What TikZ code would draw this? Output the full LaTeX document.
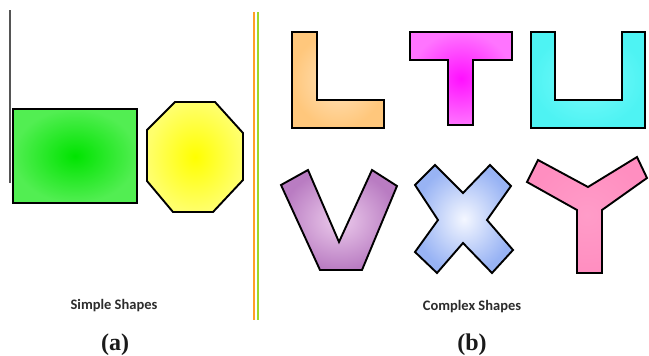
\documentclass[tikz,border=0pt]{standalone}
\usepackage{fontspec}
\setmainfont{Liberation Serif}
\newfontfamily\capfont{Carlito}
\usepackage{tikz}
\usetikzlibrary{positioning}
\definecolor{ink}{HTML}{1A1A1A}
\definecolor{capgray}{HTML}{2C2C2C}
\definecolor{rulegray}{HTML}{555555}
\definecolor{ruleorange}{HTML}{FFA125}
\definecolor{rulegreen}{HTML}{9CD82A}
\definecolor{greenin}{HTML}{00E400}
\definecolor{greenout}{HTML}{52EE52}
\definecolor{yellowin}{HTML}{FFFF00}
\definecolor{yellowout}{HTML}{FFFF6C}
\definecolor{orangein}{HTML}{FFE3BC}
\definecolor{orangeout}{HTML}{FFC77C}
\definecolor{magentain}{HTML}{FF10FF}
\definecolor{magentaout}{HTML}{FF74FF}
\definecolor{cyanin}{HTML}{78FBFB}
\definecolor{cyanout}{HTML}{4EF3F3}
\definecolor{purplein}{HTML}{ECCBEC}
\definecolor{purpleout}{HTML}{B97CC2}
\definecolor{bluein}{HTML}{F4F7FF}
\definecolor{blueout}{HTML}{98B3F4}
\definecolor{pinkin}{HTML}{FF9CC8}
\definecolor{pinkout}{HTML}{FF8EC0}
\tikzset{
  every node/.style={text=ink,inner sep=0pt},
  piece/.style={draw=black,line width=1.9pt,line join=miter,shade},
  simplegreen/.style={piece,inner color=greenin,outer color=greenout},
  simpleyellow/.style={piece,inner color=yellowin,outer color=yellowout},
  lshape/.style={piece,inner color=orangein,outer color=orangeout},
  tshape/.style={piece,inner color=magentain,outer color=magentaout},
  ushape/.style={piece,inner color=cyanin,outer color=cyanout},
  vshape/.style={piece,inner color=purplein,outer color=purpleout},
  xshape/.style={piece,inner color=bluein,outer color=blueout},
  yshape/.style={piece,inner color=pinkin,outer color=pinkout},
  caption/.style={font=\capfont\bfseries\fontsize{14.5}{16}\selectfont,text=capgray},
  sublabel/.style={font=\bfseries\fontsize{24}{26}\selectfont,text=ink},
  divider/.style={line width=1.4pt}
}

\begin{document}
\begin{tikzpicture}[x=1pt,y=-1pt]
  \useasboundingbox[fill=white] (0,0) rectangle (649,356);

  % left margin rule and the two separators
  \draw[rulegray,line width=1.2pt] (10,10) -- (10,183);
  \draw[divider,ruleorange] (254,12) -- (254,320);
  \draw[divider,rulegreen] (258,12) -- (258,320);

  % (a) simple shapes
  \draw[simplegreen] (13,109) rectangle (137,203);
  \draw[simpleyellow] (175,102) -- (215,102) -- (243,133) -- (243,180) -- (213,212)
    -- (173,212) -- (147,181) -- (147,130) -- cycle;

  % (b) complex shapes, top row
  \draw[lshape] (292,32) -- (317,32) -- (317,100) -- (384,100) -- (384,128) -- (292,128) -- cycle;
  \draw[tshape] (410,32) -- (512,32) -- (512,60) -- (473,60) -- (473,125) -- (448,125)
    -- (448,60) -- (410,60) -- cycle;
  \draw[ushape] (531,32) -- (555,32) -- (555,100) -- (622,100) -- (622,32) -- (645,32)
    -- (645,128) -- (531,128) -- cycle;

  % (b) complex shapes, bottom row
  \draw[vshape] (281,185) -- (308,170) -- (339,242) -- (372,170) -- (397,186) -- (362,270)
    -- (320,270) -- cycle;
  \draw[xshape] (415,185) -- (435,165) -- (463,193) -- (490,165) -- (511,186) -- (487,220)
    -- (513,250) -- (492,273) -- (463,243) -- (437,273) -- (415,252) -- (438,220) -- cycle;
  \draw[yshape] (527,182) -- (538,160) -- (588,187) -- (637,157) -- (647,178) -- (602,210)
    -- (602,273) -- (577,273) -- (577,210) -- cycle;

  % captions
  \node[caption] (simplecap) at (114,306) {Simple Shapes};
  \node[caption] (complexcap) at (472,307) {Complex Shapes};
  \node[sublabel] (suba) at (115,345) {(a)};
  \node[sublabel] (subb) at (472,345) {(b)};
\end{tikzpicture}
\end{document}
